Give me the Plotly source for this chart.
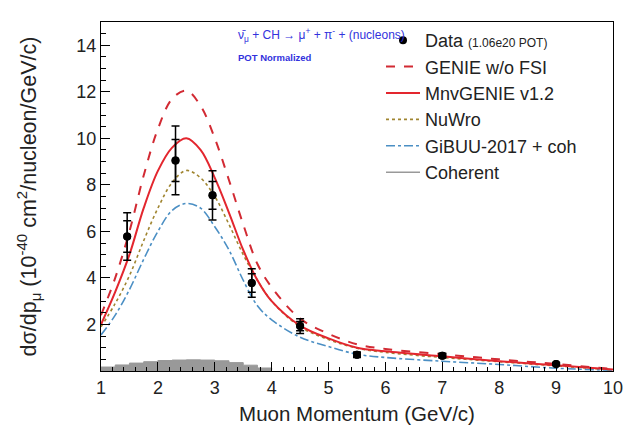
import plotly.graph_objects as go

# ---------------- data ----------------
data_x = [1.46, 2.31, 2.96, 3.65, 4.5, 5.5, 7.0, 9.0]
data_y = [5.78, 9.05, 7.55, 3.78, 1.93, 0.70, 0.66, 0.30]
data_err_tot = [1.02, 1.48, 1.06, 0.61, 0.32, 0.12, 0.10, 0.06]
data_err_stat = [0.68, 0.90, 0.60, 0.40, 0.20, 0.08, 0.07, 0.04]

curve_x = [1.0, 1.25, 1.5, 1.75, 2.0, 2.25, 2.5, 2.75, 3.0, 3.25, 3.5, 3.75,
           4.0, 4.5, 5.0, 5.5, 6.0, 7.0, 8.0, 9.0, 10.0]
genie_nofsi = [2.4, 4.0, 6.0, 8.4, 10.4, 11.7, 12.05, 11.4, 10.0, 8.2, 6.3, 4.6,
               3.6, 2.25, 1.6, 1.15, 0.95, 0.72, 0.50, 0.30, 0.08]
mnvgenie = [2.0, 3.4, 5.0, 7.0, 8.6, 9.6, 10.0, 9.5, 8.3, 6.8, 5.2, 3.9,
            3.0, 1.95, 1.4, 1.0, 0.85, 0.63, 0.42, 0.25, 0.06]
nuwro = [1.9, 2.9, 4.1, 5.6, 7.0, 8.1, 8.62, 8.3, 7.5, 6.3, 5.0, 3.9,
         3.0, 1.9, 1.35, 0.98, 0.80, 0.58, 0.40, 0.22, 0.05]
gibuu = [1.55, 2.4, 3.5, 4.8, 6.0, 6.9, 7.2, 7.0, 6.2, 5.2, 3.9, 2.8,
         2.2, 1.45, 1.05, 0.72, 0.58, 0.42, 0.28, 0.12, 0.03]

coh_edges = [1.0, 1.25, 1.5, 1.75, 2.0, 2.25, 2.5, 2.75, 3.0, 3.25, 3.5, 3.75, 4.0]
coh_vals = [0.17, 0.26, 0.34, 0.40, 0.45, 0.47, 0.48, 0.47, 0.44, 0.36, 0.25, 0.13, 0.04]

x_ticks = [1, 2, 3, 4, 5, 6, 7, 8, 9, 10]
y_ticks = [2, 4, 6, 8, 10, 12, 14]

FONT = "Liberation Sans, Arial, Helvetica, sans-serif"
RED = "#e3262e"
DRED = "#d22a33"
OLIVE = "#a08530"
BLUE = "#4b8fc4"
GRAY = "#999999"

fig = go.Figure()

# Coherent (filled histogram)
fig.add_trace(go.Scatter(
    x=coh_edges, y=coh_vals, mode="lines", line=dict(color=GRAY, width=1, shape="hv"),
    fill="tozeroy", fillcolor=GRAY, showlegend=False))
# legend entry for Coherent (thin line)
fig.add_trace(go.Scatter(
    x=[None], y=[None], mode="lines", line=dict(color=GRAY, width=1.5),
    name="Coherent", legendrank=6))

fig.add_trace(go.Scatter(
    x=curve_x, y=gibuu, mode="lines", name="GiBUU-2017 + coh", legendrank=5,
    line=dict(color=BLUE, width=1.6, dash="dashdot", shape="spline", smoothing=1.0)))
fig.add_trace(go.Scatter(
    x=curve_x, y=nuwro, mode="lines", name="NuWro", legendrank=4,
    line=dict(color=OLIVE, width=1.6, dash="dot", shape="spline", smoothing=1.0)))
fig.add_trace(go.Scatter(
    x=curve_x, y=mnvgenie, mode="lines", name="MnvGENIE v1.2", legendrank=3,
    line=dict(color=RED, width=2, shape="spline", smoothing=1.0)))
fig.add_trace(go.Scatter(
    x=curve_x, y=genie_nofsi, mode="lines", name="GENIE w/o FSI", legendrank=2,
    line=dict(color=DRED, width=2, dash="dash", shape="spline", smoothing=1.0)))

# Data: stat error (inner caps)
fig.add_trace(go.Scatter(
    x=data_x, y=data_y, mode="markers", showlegend=False,
    marker=dict(color="black", size=8),
    error_y=dict(type="data", array=data_err_stat, color="black", thickness=1.5, width=4)))
# Data: total error
fig.add_trace(go.Scatter(
    x=data_x, y=data_y, mode="markers", name="Data <span style='font-size:12px'>(1.06e20 POT)</span>",
    legendrank=1,
    marker=dict(color="black", size=8),
    error_y=dict(type="data", array=data_err_tot, color="black", thickness=1.5, width=4)))

L, R, T, B = 101, 26, 22, 59
W, H = 639, 433
pw, ph = W - L - R, H - T - B


def px2paper(px, py):
    return (px - L) / pw, 1 - (py - T) / ph


ax, ay = px2paper(236, 24)
fig.add_annotation(
    x=ax, y=ay, xref="paper", yref="paper", showarrow=False,
    text="ν̄<sub>μ</sub> + CH → μ<sup>+</sup> + π<sup>-</sup> + (nucleons)",
    font=dict(family=FONT, size=12, color="#3232dd"))
ax, ay = px2paper(236, 50)
fig.add_annotation(
    x=ax, y=ay, xref="paper", yref="paper", showarrow=False,
    text="<b>POT Normalized</b>",
    font=dict(family=FONT, size=9.5, color="#3232dd"))

fig.update_layout(
    width=W, height=H,
    margin=dict(l=L, r=R, t=T, b=B),
    paper_bgcolor="white", plot_bgcolor="white",
    font=dict(family=FONT, color="#222222"),
    showlegend=True,
    legend=dict(
        x=(381 - L) / pw, y=1.0, xanchor="left", yanchor="top",
        font=dict(family=FONT, size=18, color="#222222"),
        bgcolor="rgba(0,0,0,0)", borderwidth=0, itemwidth=34, tracegroupgap=0),
    xaxis=dict(
        range=[1, 10], tickvals=x_ticks, ticktext=[str(v) for v in x_ticks],
        ticks="inside", ticklen=9, tickwidth=1.2, tickcolor="black",
        minor=dict(dtick=0.2, ticks="inside", ticklen=4, tickcolor="black"),
        showline=True, linecolor="black", linewidth=1.3, mirror=True,
        showgrid=False, zeroline=False,
        tickfont=dict(family=FONT, size=18, color="#222222"),
        title=dict(text="Muon Momentum (GeV/c)", font=dict(family=FONT, size=20.5, color="#222222"),
                   standoff=9)),
    yaxis=dict(
        range=[0, 15], tickvals=y_ticks, ticktext=[str(v) for v in y_ticks],
        ticks="inside", ticklen=9, tickwidth=1.2, tickcolor="black",
        minor=dict(dtick=0.5, ticks="inside", ticklen=5, tickcolor="black"),
        showline=True, linecolor="black", linewidth=1.3, mirror=True,
        showgrid=False, zeroline=False,
        tickfont=dict(family=FONT, size=18, color="#222222"),
        title=dict(text="dσ/dp<sub>μ</sub> (10<sup>-40</sup> cm<sup>2</sup>/nucleon/GeV/c)",
                   font=dict(family=FONT, size=21.5, color="#222222"), standoff=33)),
)

fig.write_html("out.html")
